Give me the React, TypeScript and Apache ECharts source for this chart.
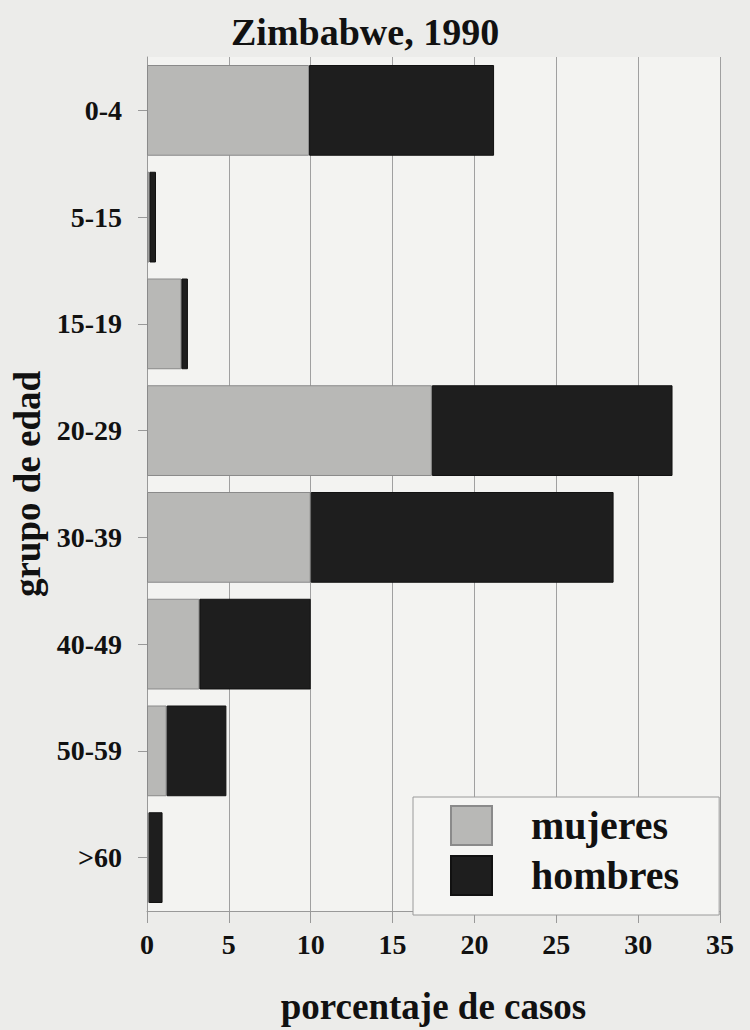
import React, { useEffect, useRef } from "react";
import * as echarts from "echarts";

const titleText = "Zimbabwe, 1990";
const categories = ["0-4", "5-15", "15-19", "20-29", "30-39", "40-49", "50-59", ">60"];
const mujeres = [9.9, 0.15, 2.1, 17.4, 10.0, 3.2, 1.2, 0.1];
const hombres = [11.3, 0.4, 0.4, 14.7, 18.5, 6.8, 3.65, 0.85];
const xTicks = [0, 5, 10, 15, 20, 25, 30, 35];
const xName = "porcentaje de casos";
const yName = "grupo de edad";

const FONT = "'Liberation Serif', 'Times New Roman', serif";

export default function App() {
  const ref = useRef<HTMLDivElement>(null);
  useEffect(() => {
    if (!ref.current) return;
    const chart = echarts.init(ref.current, null, { renderer: "svg" });
    chart.setOption({
      animation: false,
      backgroundColor: "#ececea",
      title: {
        text: titleText,
        left: 226,
        top: 8,
        textStyle: { fontFamily: FONT, fontSize: 38, fontWeight: "bold", color: "#111" },
      },
      grid: {
        left: 147,
        right: 30,
        top: 57,
        bottom: 117,
        show: true,
        backgroundColor: "#f3f3f1",
        borderWidth: 0,
      },
      legend: {
        orient: "vertical",
        left: 413,
        top: 797,
        padding: [8, 40, 19, 37],
        itemGap: 9,
        itemWidth: 41,
        itemHeight: 39,
        backgroundColor: "#f5f5f3",
        borderColor: "#9a9a9a",
        borderWidth: 1,
        icon: "rect",
        textStyle: {
          fontFamily: FONT,
          fontSize: 40,
          fontWeight: "bold",
          color: "#111",
          lineHeight: 39,
          padding: [0, 0, 0, 34],
        },
        data: ["mujeres", "hombres"],
      },
      xAxis: {
        type: "value",
        min: 0,
        max: 35,
        interval: 5,
        name: xName,
        nameLocation: "middle",
        nameGap: 77,
        nameTextStyle: { fontFamily: FONT, fontSize: 37, fontWeight: "bold", color: "#111" },
        axisLine: { show: true, lineStyle: { color: "#999", width: 1 } },
        axisTick: { show: true, length: 12, lineStyle: { color: "#999" } },
        axisLabel: {
          fontFamily: FONT,
          fontSize: 28,
          fontWeight: "bold",
          color: "#111",
          margin: 19,
          formatter: (v: number) => (xTicks.includes(v) ? String(v) : ""),
        },
        splitLine: { show: true, lineStyle: { color: "#a0a0a0", width: 1 } },
      },
      yAxis: {
        type: "category",
        data: categories,
        inverse: true,
        name: yName,
        nameLocation: "middle",
        nameGap: 95,
        nameRotate: 90,
        nameTextStyle: { fontFamily: FONT, fontSize: 37, fontWeight: "bold", color: "#111" },
        axisLine: { show: true, lineStyle: { color: "#999", width: 1 } },
        axisTick: { show: true, length: 9, alignWithLabel: true, lineStyle: { color: "#999" } },
        axisLabel: {
          fontFamily: FONT,
          fontSize: 28,
          fontWeight: "bold",
          color: "#111",
          margin: 25,
        },
        splitLine: { show: false },
      },
      series: [
        {
          name: "mujeres",
          type: "bar",
          stack: "total",
          data: mujeres,
          barCategoryGap: "15%",
          itemStyle: { color: "#b8b8b6", borderColor: "#8a8a8a", borderWidth: 1 },
        },
        {
          name: "hombres",
          type: "bar",
          stack: "total",
          data: hombres,
          barCategoryGap: "15%",
          itemStyle: { color: "#1e1e1e", borderColor: "#111", borderWidth: 1 },
        },
      ],
    });
    return () => chart.dispose();
  }, []);
  return (
    <div
      ref={ref}
      style={{ position: "fixed", left: 0, top: 0, width: 750, height: 1030 }}
    />
  );
}
